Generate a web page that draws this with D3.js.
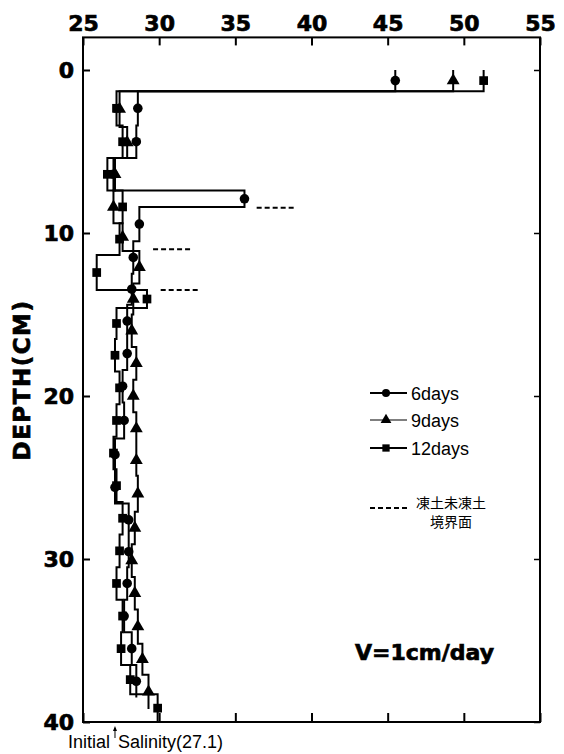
<!DOCTYPE html>
<html><head><meta charset="utf-8">
<script src="https://cdn.jsdelivr.net/npm/d3@7"></script>
<style>body{margin:0;background:#fff}</style>
</head><body>
<svg id="c" width="564" height="754"></svg>
<script>
// x: salinity, y: depth (cm)
const xTicks = [25, 30, 35, 40, 45, 50, 55];
const yTicks = [0, 10, 20, 30, 40];

// slice boundaries (depth, cm) and salinity per slice
const sixDaysDepth = [0, 1.3, 3.4, 5.4, 7.4, 8.4, 10.5, 12.5, 14.4, 16.4, 18.4, 20.4, 22.6, 24.6, 26.6, 28.6, 30.5, 32.5, 34.5, 36.5, 38.5];
const sixDaysValue = [45.5, 28.6, 28.5, 27.0, 35.6, 28.7, 28.3, 28.2, 27.9, 27.9, 27.6, 27.7, 27.1, 27.1, 28.0, 28.0, 27.9, 27.7, 28.2, 28.5];

const nineDaysDepth = [0, 1.3, 3.5, 5.4, 7.4, 9.4, 11.1, 13.1, 15.0, 17.0, 19.0, 21.0, 23.0, 24.9, 27.1, 29.1, 31.1, 33.1, 35.2, 37.1, 39.2];
const nineDaysValue = [49.3, 27.4, 27.9, 27.1, 27.0, 27.6, 28.7, 28.3, 28.2, 28.5, 28.3, 28.5, 28.5, 28.6, 28.4, 28.2, 28.4, 28.6, 28.9, 29.3];

const twelveDaysDepth = [0, 1.3, 3.4, 5.4, 7.4, 9.4, 11.35, 13.5, 14.6, 16.5, 18.5, 20.5, 22.5, 24.5, 26.5, 28.5, 30.5, 32.5, 34.5, 36.5, 38.3, 40];
const twelveDaysValue = [51.3, 27.2, 27.6, 26.6, 27.6, 27.4, 25.9, 29.2, 27.2, 27.1, 27.4, 27.2, 27.0, 27.2, 27.6, 27.4, 27.2, 27.6, 27.5, 28.1, 29.9];

// frozen / unfrozen boundary marks: depth, salinity from, salinity to
const boundaryDepth = [8.45, 11.0, 13.5];
const boundaryFrom = [36.4, 29.6, 30.1];
const boundaryTo = [39.0, 32.2, 32.6];

const initialSalinity = 27.1;

const series = [
  {name: "6days", depth: sixDaysDepth, value: sixDaysValue, sym: d3.symbolCircle, size: 72},
  {name: "9days", depth: nineDaysDepth, value: nineDaysValue, sym: d3.symbolTriangle, size: 72},
  {name: "12days", depth: twelveDaysDepth, value: twelveDaysValue, sym: d3.symbolSquare, size: 76}
];

const svg = d3.select("#c");
const x = d3.scaleLinear().domain([25, 55]).range([83, 540]);
const y = d3.scaleLinear().domain([0, 40]).range([70, 722]);
const pTop = y(-2), pBottom = y(40), pLeft = x(25), pRight = x(55);

const boldFont = "'DejaVu Sans', sans-serif";
function heavy(sel, size) {
  sel.attr("font-family", boldFont).attr("font-weight", "bold").attr("font-size", size)
    .attr("fill", "#000").attr("stroke", "#000").attr("stroke-width", 0.7);
}

// frame
svg.append("rect").attr("x", pLeft).attr("y", pTop).attr("width", pRight - pLeft).attr("height", pBottom - pTop)
  .attr("fill", "none").attr("stroke", "#000").attr("stroke-width", 2);

// top axis
const gTop = svg.append("g").attr("transform", `translate(0,${pTop})`)
  .call(d3.axisTop(x).tickValues(xTicks).tickSizeInner(-8).tickSizeOuter(0).tickPadding(6));
gTop.select(".domain").remove();
gTop.selectAll("line").attr("stroke-width", 2);
heavy(gTop.selectAll("text"), 22);

// left axis
const gLeft = svg.append("g").attr("transform", `translate(${pLeft},0)`)
  .call(d3.axisLeft(y).tickValues(yTicks).tickSizeInner(-7).tickSizeOuter(0).tickPadding(9));
gLeft.select(".domain").remove();
gLeft.selectAll("line").attr("stroke-width", 2);
heavy(gLeft.selectAll("text"), 22);

// right axis ticks
const gRight = svg.append("g").attr("transform", `translate(${pRight},0)`)
  .call(d3.axisRight(y).tickValues(yTicks).tickSizeInner(-6).tickSizeOuter(0).tickFormat(""));
gRight.select(".domain").remove();
gRight.selectAll("line").attr("stroke-width", 1.5);

// bottom axis ticks
const gBot = svg.append("g").attr("transform", `translate(0,${pBottom})`)
  .call(d3.axisBottom(x).tickValues(xTicks).tickSizeInner(-9).tickSizeOuter(0).tickFormat(""));
gBot.select(".domain").remove();
gBot.selectAll("line").attr("stroke-width", 2);

// y axis title
heavy(svg.append("text").attr("transform", `translate(30,380) rotate(-90)`)
  .attr("text-anchor", "middle").attr("letter-spacing", 1.5).text("DEPTH(CM)"), 23);

// step profiles
function stepPath(s) {
  const p = d3.path();
  p.moveTo(x(s.value[0]), y(s.depth[0]));
  for (let i = 0; i < s.value.length; i++) {
    if (i > 0) p.lineTo(x(s.value[i]), y(s.depth[i]));
    p.lineTo(x(s.value[i]), y(s.depth[i + 1]));
  }
  return p.toString();
}
series.forEach(s => {
  svg.append("path").attr("d", stepPath(s)).attr("fill", "none").attr("stroke", "#000").attr("stroke-width", 2);
});
series.forEach(s => {
  const pts = s.value.map((v, i) => ({v, d: (s.depth[i] + s.depth[i + 1]) / 2}));
  svg.append("g").selectAll("path").data(pts).join("path")
    .attr("d", d3.symbol(s.sym, s.size))
    .attr("transform", d => `translate(${x(d.v)},${y(d.d)})`)
    .attr("fill", "#000");
});

// boundary dashes
svg.append("g").selectAll("line").data(boundaryDepth).join("line")
  .attr("x1", (d, i) => x(boundaryFrom[i])).attr("x2", (d, i) => x(boundaryTo[i]))
  .attr("y1", d => y(d)).attr("y2", d => y(d))
  .attr("stroke", "#000").attr("stroke-width", 2).attr("stroke-dasharray", "5,3");

// legend
const lg = svg.append("g");
series.forEach((s, i) => {
  const ly = [393, 420, 448][i];
  lg.append("line").attr("x1", 370).attr("x2", 407).attr("y1", ly).attr("y2", ly)
    .attr("stroke", "#000").attr("stroke-width", i === 1 ? 1.2 : 1.8);
  lg.append("path").attr("d", d3.symbol(s.sym, s.size * 0.7)).attr("transform", `translate(386,${ly})`).attr("fill", "#000");
  lg.append("text").attr("x", 411).attr("y", ly + 7).attr("font-family", "'Liberation Sans', Arial, sans-serif")
    .attr("font-size", 18).text(s.name);
});
lg.append("line").attr("x1", 370).attr("x2", 408).attr("y1", 508).attr("y2", 508)
  .attr("stroke", "#000").attr("stroke-width", 2).attr("stroke-dasharray", "5,3");
lg.append("text").attr("x", 451).attr("y", 508).attr("text-anchor", "middle")
  .attr("font-family", "'Noto Sans CJK JP', sans-serif").attr("font-size", 14).text("凍土未凍土");
lg.append("text").attr("x", 451).attr("y", 527).attr("text-anchor", "middle")
  .attr("font-family", "'Noto Sans CJK JP', sans-serif").attr("font-size", 14).text("境界面");

// velocity label
heavy(svg.append("text").attr("x", 355).attr("y", 660).text("V=1cm/day"), 22);

// initial salinity annotation
const ax = x(initialSalinity);
svg.append("line").attr("x1", ax).attr("x2", ax).attr("y1", 738).attr("y2", 728).attr("stroke", "#000").attr("stroke-width", 1);
svg.append("path").attr("d", `M${ax - 2},${731} L${ax},${726} L${ax + 2},${731} Z`).attr("fill", "#000");
svg.append("text").attr("x", 68).attr("y", 748).attr("font-family", "'Liberation Sans', Arial, sans-serif")
  .attr("font-size", 18).text("Initial");
svg.append("text").attr("x", ax + 3).attr("y", 748).attr("font-family", "'Liberation Sans', Arial, sans-serif")
  .attr("font-size", 18).text("Salinity(" + initialSalinity + ")");
</script>
</body></html>
